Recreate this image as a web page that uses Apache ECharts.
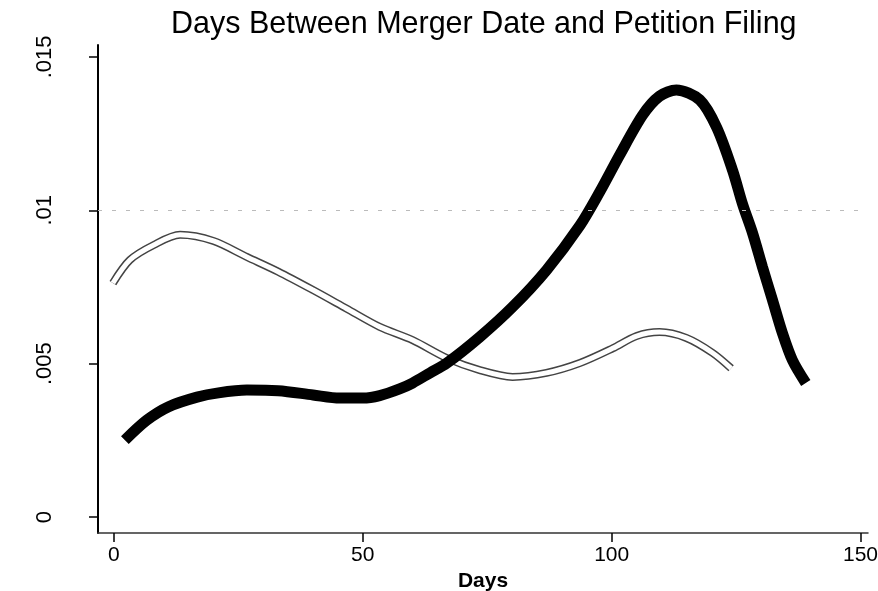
<!DOCTYPE html>
<html>
<head>
<meta charset="utf-8">
<script src="https://cdn.jsdelivr.net/npm/echarts@6/dist/echarts.min.js"></script>
<style>
  html, body { margin: 0; padding: 0; background: #fff; }
  #chart { width: 878px; height: 591px; }
</style>
</head>
<body>
<div id="chart"></div>
<script>
// density estimates
var thickDays = [2.2, 6.6, 11, 16.7, 21, 26.7, 33, 40, 45.4, 50, 53.4, 57.4, 60, 63.5, 66.9, 73.5, 80.1, 86.9, 93.6, 97.6, 101.6, 106.2, 109.6, 113, 117.7, 121.1, 124.3, 126.3, 128.3, 130.3, 132.3, 134.3, 136.3, 139];
var thickDensity = [0.00251, 0.00316, 0.0036, 0.00391, 0.00405, 0.00414, 0.00412, 0.00398, 0.00388, 0.00388, 0.00396, 0.00418, 0.00437, 0.0047, 0.00502, 0.00587, 0.00685, 0.00805, 0.0095, 0.0106, 0.0118, 0.0131, 0.01372, 0.01392, 0.0136, 0.0127, 0.0113, 0.0102, 0.00926, 0.00815, 0.00708, 0.006, 0.00512, 0.00437];

var hollowDays = [-0.2, 3.2, 8, 13.3, 20, 26.7, 33, 40, 46.7, 53.4, 60, 66.9, 73.5, 80.1, 86.9, 93.6, 100.2, 105, 109.6, 115, 120.3, 124];
var hollowDensity = [0.00763, 0.00838, 0.00887, 0.0092, 0.009, 0.00848, 0.008, 0.0074, 0.0068, 0.0062, 0.00577, 0.00518, 0.00479, 0.00457, 0.0047, 0.00502, 0.0055, 0.0059, 0.00603, 0.00584, 0.00535, 0.00485];

var xTicks = [0, 50, 100, 150];
var yTicks = [0, 0.005, 0.01, 0.015];
var yTickText = ['0', '.005', '.01', '.015'];

function pairs(xs, ys) {
  return xs.map(function (x, i) { return [x, ys[i]]; });
}

var chart = echarts.init(document.getElementById('chart'));

var font = 'Liberation Sans, Arial, sans-serif';

chart.setOption({
  animation: false,
  backgroundColor: '#fff',
  title: {
    text: 'Days Between Merger Date and Petition Filing',
    left: 166,
    top: 4,
    textStyle: { fontFamily: font, fontSize: 30.5, fontWeight: 'normal', color: '#000' }
  },
  grid: { left: 98, right: 10, top: 45, bottom: 58, containLabel: false, outerBoundsMode: 'none' },
  xAxis: {
    type: 'value',
    min: -3.2,
    max: 151.5,
    name: 'Days',
    nameLocation: 'middle',
    nameGap: 36,
    nameTextStyle: { fontFamily: font, fontSize: 21, fontWeight: 'bold', color: '#000' },
    axisLine: { show: true, onZero: false, lineStyle: { color: '#333', width: 1.5 } },
    axisTick: { show: true, customValues: xTicks, length: 9, lineStyle: { color: '#000', width: 1.5 } },
    axisLabel: { customValues: xTicks, fontFamily: font, fontSize: 21, color: '#000', margin: 12 },
    splitLine: { show: false }
  },
  yAxis: {
    type: 'value',
    min: -0.00052,
    max: 0.01539,
    axisLine: { show: true, onZero: false, lineStyle: { color: '#000', width: 2 } },
    axisTick: { show: true, customValues: yTicks, length: 9, lineStyle: { color: '#000', width: 1.5 } },
    axisLabel: {
      customValues: yTicks,
      rotate: 90,
      fontFamily: font,
      fontSize: 22,
      color: '#000',
      margin: 42,
      formatter: function (v) {
        var i = yTicks.findIndex(function (t) { return Math.abs(t - v) < 1e-9; });
        return i >= 0 ? yTickText[i] : '';
      }
    },
    splitLine: { show: false }
  },
  series: [
    {
      name: 'hollow outline',
      type: 'line',
      data: pairs(hollowDays, hollowDensity),
      smooth: 0.3,
      showSymbol: false,
      lineStyle: { color: '#444', width: 8 },
      markLine: {
        silent: true,
        symbol: 'none',
        label: { show: false },
        lineStyle: { color: '#bbb', type: [4, 10], width: 1 },
        data: [{ yAxis: 0.01 }]
      },
      z: 2
    },
    {
      name: 'hollow inner',
      type: 'line',
      data: pairs(hollowDays, hollowDensity),
      smooth: 0.3,
      showSymbol: false,
      lineStyle: { color: '#fff', width: 5 },
      z: 3
    },
    {
      name: 'thick',
      type: 'line',
      data: pairs(thickDays, thickDensity),
      smooth: 0.3,
      showSymbol: false,
      lineStyle: { color: '#000', width: 11, cap: 'butt' },
      z: 4
    }
  ]
});
</script>
</body>
</html>
